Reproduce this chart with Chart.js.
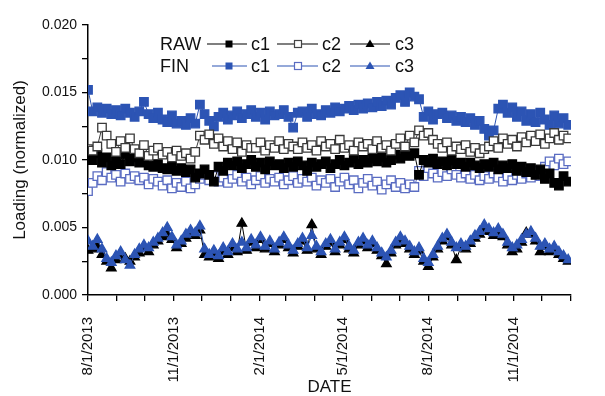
<!DOCTYPE html>
<html>
<head>
<meta charset="utf-8">
<script src="https://cdn.jsdelivr.net/npm/chart.js@4/dist/chart.umd.min.js"></script>
<style>
  body { margin: 0; background: #fff; }
  #wrap { width: 605px; height: 396px; }
</style>
</head>
<body>
<div id="wrap"><canvas id="loadingChart" width="605" height="396"></canvas></div>
<script>
// sample dates (roughly every 5 days)
const dates = [
  "2013-08-01","2013-08-06","2013-08-11","2013-08-16","2013-08-21","2013-08-26","2013-08-31",
  "2013-09-05","2013-09-10","2013-09-15","2013-09-20","2013-09-25","2013-09-30",
  "2013-10-05","2013-10-10","2013-10-15","2013-10-20","2013-10-25","2013-10-30",
  "2013-11-04","2013-11-09","2013-11-14","2013-11-19","2013-11-24","2013-11-29",
  "2013-12-04","2013-12-09","2013-12-14","2013-12-19","2013-12-24","2013-12-29",
  "2014-01-03","2014-01-08","2014-01-13","2014-01-18","2014-01-23","2014-01-28",
  "2014-02-02","2014-02-07","2014-02-12","2014-02-17","2014-02-22","2014-02-27",
  "2014-03-04","2014-03-09","2014-03-14","2014-03-19","2014-03-24","2014-03-29",
  "2014-04-03","2014-04-08","2014-04-13","2014-04-18","2014-04-23","2014-04-28",
  "2014-05-03","2014-05-08","2014-05-13","2014-05-18","2014-05-23","2014-05-28",
  "2014-06-02","2014-06-07","2014-06-12","2014-06-17","2014-06-22","2014-06-27",
  "2014-07-02","2014-07-07","2014-07-12","2014-07-17","2014-07-22","2014-07-27",
  "2014-08-01","2014-08-06","2014-08-11","2014-08-16","2014-08-21","2014-08-26","2014-08-31",
  "2014-09-05","2014-09-10","2014-09-15","2014-09-20","2014-09-25","2014-09-30",
  "2014-10-05","2014-10-10","2014-10-15","2014-10-20","2014-10-25","2014-10-30",
  "2014-11-04","2014-11-09","2014-11-14","2014-11-19","2014-11-24","2014-11-29",
  "2014-12-04","2014-12-09","2014-12-14","2014-12-19","2014-12-24","2014-12-29"
];

const rawC1 = [
  0.0103,0.0100,0.0105,0.0098,0.0102,0.0096,0.0101,0.0097,0.0104,0.0099,0.0102,
  0.0098,0.0100,0.0096,0.0095,0.0097,0.0094,0.0093,0.0095,0.0092,0.0094,
  0.0091,0.0093,0.0087,0.0090,0.0093,0.0089,0.0084,0.0095,0.0092,0.0098,
  0.0096,0.0099,0.0094,0.0097,0.0100,0.0095,0.0098,0.0093,0.0099,0.0096,
  0.0097,0.0094,0.0098,0.0095,0.0099,0.0096,0.0092,0.0098,0.0095,0.0097,
  0.0099,0.0094,0.0097,0.0100,0.0096,0.0098,0.0101,0.0097,0.0100,0.0098,
  0.0101,0.0099,0.0102,0.0098,0.0100,0.0104,0.0101,0.0106,0.0103,0.0105,
  0.0089,0.0100,0.0098,0.0101,0.0097,0.0099,0.0096,0.0100,0.0097,0.0098,
  0.0095,0.0098,0.0096,0.0094,0.0097,0.0095,0.0098,0.0093,0.0096,0.0094,
  0.0097,0.0092,0.0095,0.0091,0.0094,0.0089,0.0093,0.0086,0.0090,0.0083,0.0081,0.0088,0.0084
];
const rawC2 = [
  0.0108,0.0107,0.0110,0.0124,0.0118,0.0112,0.0106,0.0114,0.0109,0.0116,0.0108,
  0.0105,0.0111,0.0103,0.0107,0.0109,0.0104,0.0106,0.0102,0.0107,0.0103,
  0.0105,0.0101,0.0106,0.0118,0.0115,0.0119,0.0112,0.0116,0.0110,0.0114,
  0.0108,0.0113,0.0106,0.0111,0.0109,0.0109,0.0113,0.0107,0.0111,0.0109,
  0.0114,0.0108,0.0112,0.0110,0.0108,0.0113,0.0109,0.0111,0.0107,0.0114,
  0.0110,0.0112,0.0108,0.0115,0.0109,0.0111,0.0107,0.0113,0.0110,0.0112,
  0.0108,0.0114,0.0109,0.0111,0.0107,0.0112,0.0116,0.0110,0.0118,0.0113,
  0.0122,0.0118,0.0120,0.0115,0.0112,0.0109,0.0113,0.0107,0.0110,0.0108,
  0.0111,0.0106,0.0109,0.0105,0.0108,0.0110,0.0114,0.0109,0.0116,0.0112,
  0.0115,0.0110,0.0117,0.0113,0.0118,0.0114,0.0119,0.0112,0.0116,0.0120,0.0115,0.0118,0.0116
];
const rawC3 = [
  0.0033,0.0034,0.0036,0.0030,0.0025,0.0020,0.0026,0.0029,0.0027,0.0025,0.0028,
  0.0031,0.0035,0.0032,0.0037,0.0040,0.0043,0.0045,0.0041,0.0035,0.0038,
  0.0042,0.0045,0.0044,0.0048,0.0030,0.0028,0.0031,0.0027,0.0032,0.0030,
  0.0035,0.0032,0.0053,0.0033,0.0039,0.0035,0.0041,0.0034,0.0038,0.0032,
  0.0037,0.0041,0.0035,0.0031,0.0036,0.0040,0.0033,0.0052,0.0034,0.0030,
  0.0036,0.0039,0.0032,0.0037,0.0041,0.0034,0.0031,0.0037,0.0040,0.0035,
  0.0038,0.0033,0.0029,0.0023,0.0031,0.0037,0.0041,0.0038,0.0034,0.0030,
  0.0033,0.0025,0.0021,0.0028,0.0034,0.0040,0.0043,0.0037,0.0026,0.0036,
  0.0034,0.0038,0.0042,0.0045,0.0049,0.0047,0.0044,0.0046,0.0043,0.0037,
  0.0032,0.0034,0.0039,0.0046,0.0045,0.0040,0.0032,0.0036,0.0032,0.0034,0.0030,0.0027,0.0025
];
const finC1 = [
  0.0152,0.0136,0.0139,0.0135,0.0138,0.0134,0.0137,0.0133,0.0138,0.0135,0.0132,
  0.0136,0.0143,0.0134,0.0131,0.0135,0.0130,0.0128,0.0133,0.0127,0.0129,
  0.0126,0.0131,0.0127,0.0141,0.0134,0.0129,0.0125,0.0132,0.0135,0.0130,
  0.0133,0.0136,0.0131,0.0134,0.0137,0.0132,0.0135,0.0130,0.0136,0.0133,
  0.0134,0.0137,0.0132,0.0124,0.0135,0.0136,0.0132,0.0138,0.0134,0.0133,
  0.0137,0.0135,0.0139,0.0136,0.0138,0.0140,0.0137,0.0141,0.0138,0.0142,
  0.0139,0.0143,0.0140,0.0144,0.0141,0.0146,0.0148,0.0143,0.0150,0.0147,
  0.0145,0.0132,0.0136,0.0130,0.0134,0.0135,0.0131,0.0133,0.0129,0.0132,
  0.0128,0.0131,0.0126,0.0129,0.0123,0.0118,0.0122,0.0138,0.0141,0.0135,
  0.0139,0.0132,0.0136,0.0129,0.0134,0.0128,0.0135,0.0130,0.0126,0.0133,0.0127,0.0131,0.0126
];
const finC2 = [
  0.0077,0.0083,0.0088,0.0085,0.0091,0.0087,0.0089,0.0084,0.0090,0.0086,0.0088,
  0.0085,0.0087,0.0082,0.0086,0.0084,0.0081,0.0085,0.0079,0.0083,0.0080,
  0.0084,0.0079,0.0082,0.0086,0.0089,0.0085,0.0088,0.0084,0.0087,0.0083,
  0.0086,0.0089,0.0084,0.0087,0.0082,0.0085,0.0088,0.0083,0.0086,0.0084,
  0.0087,0.0082,0.0085,0.0088,0.0083,0.0086,0.0084,0.0087,0.0081,0.0085,
  0.0083,0.0086,0.0080,0.0084,0.0087,0.0082,0.0085,0.0079,0.0083,0.0086,
  0.0081,0.0084,0.0078,0.0082,0.0085,0.0080,0.0083,0.0079,0.0082,0.0080,
  0.0092,0.0088,0.0094,0.0090,0.0087,0.0091,0.0088,0.0093,0.0089,0.0087,
  0.0090,0.0086,0.0089,0.0085,0.0088,0.0086,0.0090,0.0087,0.0084,0.0088,
  0.0085,0.0089,0.0086,0.0090,0.0087,0.0092,0.0088,0.0095,0.0099,0.0096,0.0101,0.0097,0.0099
];
const finC3 = [
  0.0040,0.0036,0.0041,0.0034,0.0027,0.0024,0.0029,0.0032,0.0026,0.0022,0.0030,
  0.0034,0.0037,0.0035,0.0039,0.0042,0.0046,0.0050,0.0043,0.0037,0.0040,
  0.0045,0.0048,0.0046,0.0051,0.0034,0.0030,0.0033,0.0029,0.0035,0.0032,
  0.0038,0.0034,0.0039,0.0035,0.0041,0.0037,0.0043,0.0036,0.0040,0.0034,
  0.0039,0.0043,0.0037,0.0033,0.0038,0.0042,0.0035,0.0044,0.0036,0.0032,
  0.0038,0.0041,0.0034,0.0039,0.0043,0.0036,0.0033,0.0039,0.0042,0.0037,
  0.0040,0.0035,0.0031,0.0028,0.0033,0.0039,0.0043,0.0040,0.0036,0.0032,
  0.0035,0.0027,0.0024,0.0030,0.0036,0.0042,0.0045,0.0039,0.0035,0.0038,
  0.0036,0.0040,0.0044,0.0047,0.0052,0.0049,0.0046,0.0049,0.0045,0.0039,
  0.0035,0.0037,0.0041,0.0045,0.0047,0.0042,0.0036,0.0038,0.0034,0.0036,0.0032,0.0029,0.0026
];

// axis: monthly ticks, labels every 3 months
const tickMonths = [
  "2013-08-01","2013-09-01","2013-10-01","2013-11-01","2013-12-01","2014-01-01",
  "2014-02-01","2014-03-01","2014-04-01","2014-05-01","2014-06-01","2014-07-01",
  "2014-08-01","2014-09-01","2014-10-01","2014-11-01","2014-12-01","2015-01-01"
];
const tickLabels = {
  "2013-08-01": "8/1/2013", "2013-11-01": "11/1/2013", "2014-02-01": "2/1/2014",
  "2014-05-01": "5/1/2014", "2014-08-01": "8/1/2014", "2014-11-01": "11/1/2014"
};

const BLUE = "#2c54b4";
const BLUE_OPEN = "#5a6cc2";
const FONT = "Arial, 'Liberation Sans', sans-serif";
const t0 = Date.parse("2013-08-01");
const dayOf = (d) => (Date.parse(d) - t0) / 864e5;
const pts = (vals) => dates.map((d, i) => ({ x: dayOf(d), y: vals[i] }));

function series(label, vals, color, fill, style, radius, order) {
  return {
    label: label,
    data: pts(vals),
    borderColor: color,
    backgroundColor: fill,
    borderWidth: 1,
    pointStyle: style,
    pointRadius: radius,
    pointBorderWidth: 1.3,
    pointBorderColor: color,
    pointBackgroundColor: fill,
    showLine: true,
    order: order,
  };
}

// legend drawn inside the plot like the original
const legendPlugin = {
  id: "inlineLegend",
  afterDraw(chart) {
    const ctx = chart.ctx;
    const rows = [
      { name: "RAW", y: 44, color: "#000", open: "#444", lineStart: 207 },
      { name: "FIN", y: 66, color: BLUE, open: BLUE_OPEN, lineStart: 212 },
    ];
    ctx.save();
    ctx.font = "18px " + FONT;
    ctx.textBaseline = "middle";
    ctx.fillStyle = "#111";
    rows.forEach((r) => {
      ctx.fillText(r.name, 160, r.y + 1);
      const segs = [
        { x1: r.lineStart, x2: 247, m: 229, kind: "fill", txt: "c1", tx: 251 },
        { x1: 277, x2: 318, m: 298, kind: "open", txt: "c2", tx: 322 },
        { x1: 350, x2: 390, m: 370, kind: "tri", txt: "c3", tx: 395 },
      ];
      segs.forEach((s) => {
        ctx.strokeStyle = r.color;
        ctx.lineWidth = 1.2;
        ctx.beginPath();
        ctx.moveTo(s.x1, r.y);
        ctx.lineTo(s.x2, r.y);
        ctx.stroke();
        if (s.kind === "fill") {
          ctx.fillStyle = r.color;
          ctx.fillRect(s.m - 3.5, r.y - 3.5, 7, 7);
        } else if (s.kind === "open") {
          ctx.fillStyle = "#fff";
          ctx.fillRect(s.m - 3.5, r.y - 3.5, 7, 7);
          ctx.strokeStyle = r.open;
          ctx.strokeRect(s.m - 3.5, r.y - 3.5, 7, 7);
        } else {
          ctx.fillStyle = r.color;
          ctx.beginPath();
          ctx.moveTo(s.m, r.y - 4.5);
          ctx.lineTo(s.m + 4.5, r.y + 3);
          ctx.lineTo(s.m - 4.5, r.y + 3);
          ctx.closePath();
          ctx.fill();
        }
        ctx.fillStyle = "#111";
        ctx.fillText(s.txt, s.tx, r.y + 1);
      });
    });
    ctx.restore();
  },
};

const ctx = document.getElementById("loadingChart").getContext("2d");
new Chart(ctx, {
  type: "scatter",
  data: {
    datasets: [
      series("FIN c1", finC1, BLUE, BLUE, "rect", 6, 6),
      series("FIN c2", finC2, BLUE_OPEN, "#ffffff", "rect", 6, 5),
      series("RAW c1", rawC1, "#000", "#000", "rect", 6, 4),
      series("RAW c2", rawC2, "#3a3a3a", "#ffffff", "rect", 6, 3),
      series("RAW c3", rawC3, "#000", "#000", "triangle", 5.5, 2),
      series("FIN c3", finC3, BLUE, BLUE, "triangle", 5.5, 1),
    ],
  },
  options: {
    responsive: false,
    animation: false,
    layout: { padding: { top: 25, right: 27, left: 0, bottom: 0 } },
    plugins: {
      legend: { display: false },
      tooltip: { enabled: false },
    },
    scales: {
      x: {
        type: "linear",
        min: 0,
        max: dayOf("2015-01-01"),
        afterBuildTicks: (scale) => {
          scale.ticks = tickMonths.map((m) => ({ value: dayOf(m) }));
        },
        afterFit: (scale) => { scale.height = 101; },
        ticks: {
          autoSkip: false,
          minRotation: 90,
          maxRotation: 90,
          padding: 16,
          color: "#111",
          font: { family: FONT, size: 15 },
          callback: (v) => {
            const m = tickMonths.find((d) => dayOf(d) === v);
            return tickLabels[m] || "";
          },
        },
        grid: { drawOnChartArea: false, drawTicks: true, tickLength: 6, color: "#000", lineWidth: 1.3 },
        border: { color: "#000", width: 1.5 },
        title: {
          display: true,
          text: "DATE",
          color: "#111",
          padding: { top: 0, bottom: 0 },
          font: { family: FONT, size: 17, lineHeight: 1 },
        },
      },
      y: {
        min: 0,
        max: 0.02,
        afterFit: (scale) => { scale.width = 88; },
        ticks: {
          stepSize: 0.0025,
          padding: 5,
          color: "#111",
          font: { family: FONT, size: 14 },
          callback: (v, i) => (i % 2 === 0 ? v.toFixed(3) : ""),
        },
        grid: { drawOnChartArea: false, drawTicks: true, tickLength: 6, color: "#000", lineWidth: 1.3 },
        border: { color: "#000", width: 1.5 },
        title: {
          display: true,
          text: "Loading (normalized)",
          color: "#111",
          padding: { top: 10, bottom: 0 },
          font: { family: FONT, size: 17 },
        },
      },
    },
  },
  plugins: [legendPlugin],
});
</script>
</body>
</html>
